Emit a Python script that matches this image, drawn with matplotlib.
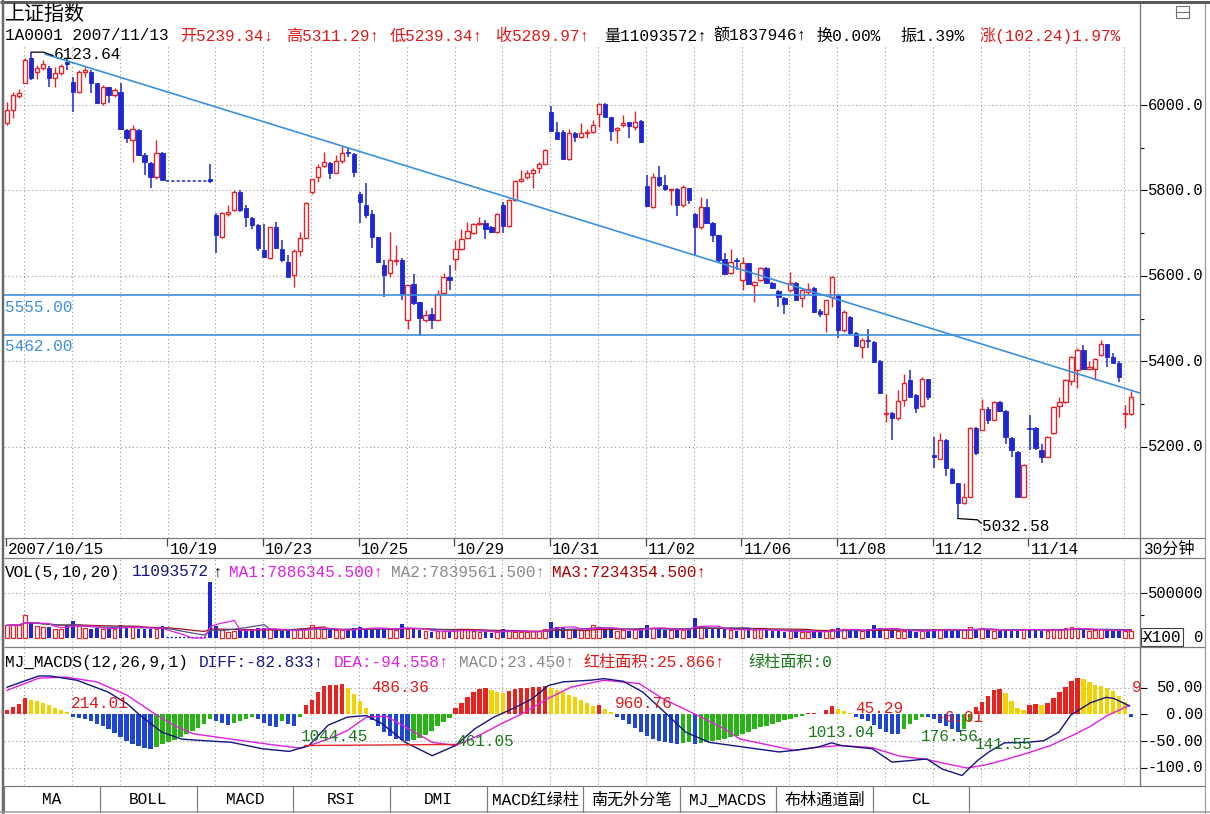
import matplotlib
matplotlib.use("Agg")
import matplotlib.pyplot as plt
from matplotlib.patches import Rectangle
import pandas as pd

plt.rcParams["font.family"] = ["Liberation Mono", "Noto Sans CJK SC", "DejaVu Sans"]

W, H = 1210, 814
RED = "#e0262a"
BLUE = "#1e28d2"
TREND = "#3c8fdc"
GRID = "#9a9a9a"
RED_T = "#e01818"
NAVY = "#141480"
MAG = "#e020e0"
GRAY_T = "#8a8a8a"
DRED = "#b00000"
GREEN_T = "#1a7a1a"
H_RED, H_YEL, H_BLUE, H_GRN = "#e8221e", "#f2d200", "#1e46d2", "#28b414"

# ---- 30-minute bars, 2007/10/15 .. 2007/11/16 (None = no trading data) ----
opens = [
    5957, 5988, 6020, 6051, 6109, 6078, 6086, 6086, 6062, 6074,
    6100, 6054, 6031, 6078, 6078, 6051, 6004, 6043, 6023, 6031,
    5941, 5918, 5941, 5883, 5865, 5832, 5888, None, None, None,
    None, None, None, None, 5826, 5743, 5692, 5745, 5754, 5797,
    5758, 5735, 5719, 5660, 5641, 5714, 5662, 5633, 5602, 5659,
    5690, 5797, 5831, 5857, 5865, 5842, 5870, 5891, 5885, 5792,
    5766, 5745, 5692, 5626, 5606, 5635, 5637, 5497, 5581, 5540,
    5498, 5510, 5498, 5561, 5598, 5639, 5662, 5690, 5701, 5721,
    5725, 5714, 5704, 5766, 5717, 5778, 5823, 5831, 5842, 5852,
    5863, 5984, 5938, 5938, 5873, 5934, 5924, 5935, 5938, 5980,
    6002, 5973, 5941, 5953, 5960, 5949, 5963, 5810, 5762, 5831,
    5813, 5800, 5803, 5766, 5805, 5745, 5714, 5761, 5725, 5696,
    5639, 5606, 5638, 5590, 5630, 5579, 5590, 5618, 5584, 5565,
    5548, 5567, 5584, 5548, 5563, 5571, 5519, 5512, 5552, 5555,
    5473, 5505, 5467, 5435, 5451, 5446, 5402, 5277, 5280, 5267,
    5310, 5357, 5321, 5296, 5358, 5181, 5173, 5216, 5148, 5115,
    5068, 5084, 5244, 5239.34, 5288, 5263, 5306, 5285, 5220, 5189,
    5084, 5244, 5244, 5193, 5177, 5232, 5296, 5306, 5355, 5380,
    5428, 5383, 5382, 5415, 5441, 5410, 5397, 5277, 5277,
]
highs = [
    6008, 6031, 6037, 6109, 6123.64, 6094, 6105, 6091, 6090, 6097,
    6109, 6066, 6082, 6090, 6082, 6052, 6047, 6043, 6039, 6051,
    5945, 5953, 5943, 5888, 5867, 5918, 5891, None, None, None,
    None, None, None, None, 5863, 5747, 5750, 5766, 5801, 5801,
    5766, 5739, 5721, 5721, 5715, 5727, 5684, 5649, 5662, 5704,
    5774, 5828, 5863, 5891, 5867, 5883, 5904, 5902, 5887, 5797,
    5817, 5754, 5692, 5637, 5704, 5672, 5641, 5579, 5604, 5540,
    5520, 5524, 5567, 5606, 5625, 5684, 5709, 5727, 5725, 5739,
    5732, 5717, 5748, 5774, 5779, 5824, 5849, 5848, 5852, 5867,
    5896, 5998, 5961, 5941, 5945, 5938, 5957, 5945, 5965, 6004,
    6004, 5973, 5948, 5977, 5961, 5987, 5966, 5836, 5840, 5857,
    5836, 5804, 5805, 5813, 5807, 5748, 5784, 5779, 5727, 5696,
    5654, 5662, 5641, 5645, 5631, 5589, 5622, 5622, 5587, 5567,
    5550, 5610, 5587, 5571, 5583, 5575, 5522, 5545, 5600, 5559,
    5520, 5506, 5470, 5456, 5477, 5449, 5403, 5325, 5282, 5333,
    5371, 5380, 5325, 5364, 5360, 5224, 5232, 5218, 5150, 5116,
    5115, 5246, 5246, 5311.29, 5293, 5308, 5308, 5287, 5224, 5191,
    5160, 5275, 5246, 5207, 5226, 5296, 5316, 5358, 5413, 5431,
    5439, 5400, 5407, 5450, 5442, 5419, 5400, 5298, 5330,
]
lows = [
    5953, 5969, 6016, 6051, 6058, 6060, 6083, 6043, 6043, 6070,
    6082, 5984, 6027, 6066, 6027, 6002, 6000, 6004, 6019, 5945,
    5910, 5867, 5881, 5836, 5805, 5828, 5824, None, None, None,
    None, None, None, None, 5818, 5653, 5688, 5740, 5753, 5750,
    5715, 5711, 5659, 5645, 5639, 5662, 5633, 5597, 5575, 5647,
    5688, 5792, 5821, 5856, 5828, 5840, 5865, 5879, 5832, 5725,
    5735, 5665, 5630, 5552, 5598, 5625, 5545, 5475, 5532, 5459,
    5493, 5475, 5497, 5555, 5567, 5614, 5661, 5688, 5698, 5719,
    5686, 5700, 5701, 5701, 5715, 5776, 5821, 5828, 5807, 5840,
    5862, 5938, 5918, 5871, 5871, 5914, 5922, 5922, 5935, 5949,
    5971, 5916, 5912, 5949, 5922, 5941, 5912, 5762, 5760, 5809,
    5799, 5766, 5740, 5761, 5768, 5647, 5711, 5722, 5680, 5633,
    5602, 5605, 5614, 5567, 5579, 5540, 5589, 5583, 5571, 5528,
    5511, 5563, 5542, 5527, 5559, 5514, 5503, 5470, 5528, 5454,
    5470, 5462, 5433, 5407, 5431, 5397, 5325, 5259, 5216, 5264,
    5296, 5316, 5280, 5294, 5311, 5150, 5171, 5131, 5113, 5032.58,
    5066, 5082, 5181, 5239.34, 5254, 5262, 5283, 5208, 5176, 5082,
    5082, 5193, 5193, 5163, 5176, 5230, 5271, 5304, 5345, 5337,
    5380, 5382, 5357, 5413, 5388, 5396, 5353, 5244, 5275,
]
closes = [
    5988, 6023, 6027, 6105, 6062, 6086, 6096, 6062, 6074, 6091,
    6097, 6031, 6078, 6082, 6051, 6004, 6043, 6023, 6035, 5945,
    5922, 5945, 5883, 5867, 5831, 5887, 5824, None, None, None,
    None, None, None, None, 5822, 5696, 5747, 5750, 5797, 5754,
    5739, 5719, 5665, 5645, 5714, 5665, 5637, 5598, 5659, 5690,
    5771, 5826, 5856, 5867, 5840, 5870, 5888, 5887, 5844, 5774,
    5743, 5692, 5633, 5602, 5637, 5638, 5559, 5579, 5536, 5501,
    5508, 5497, 5559, 5598, 5590, 5662, 5686, 5706, 5721, 5724,
    5709, 5704, 5746, 5717, 5778, 5823, 5828, 5842, 5849, 5863,
    5895, 5940, 5920, 5873, 5934, 5924, 5934, 5938, 5953, 6002,
    5973, 5940, 5947, 5959, 5951, 5961, 5914, 5764, 5831, 5813,
    5803, 5803, 5766, 5809, 5778, 5714, 5761, 5723, 5696, 5637,
    5605, 5633, 5635, 5630, 5581, 5587, 5618, 5584, 5573, 5551,
    5534, 5584, 5544, 5567, 5569, 5516, 5512, 5544, 5598, 5473,
    5516, 5466, 5436, 5450, 5448, 5399, 5327, 5280, 5267, 5308,
    5350, 5317, 5292, 5360, 5316, 5176, 5216, 5150, 5116, 5068,
    5084, 5244, 5185, 5289.97, 5262, 5306, 5285, 5223, 5193, 5084,
    5158, 5241, 5197, 5177, 5224, 5294, 5306, 5357, 5411, 5427,
    5382, 5386, 5405, 5442, 5410, 5397, 5363, 5280, 5318,
]
# volume in axis units (x100)
volumes = [
    140000, 147000, 140000, 250000, 176000, 132000, 121000, 121000, 103000, 103000,
    140000, 184000, 132000, 110000, 103000, 110000, 103000, 110000, 96000, 147000,
    121000, 132000, 103000, 103000, 96000, 103000, 132000, None, None, None,
    None, None, None, None, 617000, 132000, 85000, 66000, 77000, 85000,
    96000, 103000, 110000, 110000, 96000, 85000, 74000, 85000, 85000, 96000,
    103000, 140000, 110000, 96000, 85000, 85000, 85000, 85000, 110000, 121000,
    110000, 110000, 103000, 103000, 96000, 85000, 154000, 103000, 96000, 85000,
    74000, 66000, 74000, 74000, 66000, 96000, 103000, 85000, 74000, 66000,
    66000, 59000, 66000, 103000, 74000, 66000, 66000, 66000, 74000, 81000,
    103000, 176000, 121000, 110000, 103000, 96000, 85000, 92000, 140000, 121000,
    103000, 110000, 74000, 85000, 77000, 96000, 110000, 140000, 110000, 96000,
    92000, 85000, 96000, 85000, 110000, 220000, 132000, 103000, 96000, 103000,
    96000, 85000, 81000, 103000, 96000, 85000, 96000, 85000, 74000, 81000,
    66000, 81000, 74000, 70000, 66000, 74000, 66000, 81000, 103000, 110000,
    96000, 85000, 81000, 74000, 96000, 140000, 110000, 96000, 85000, 81000,
    77000, 85000, 70000, 74000, 81000, 103000, 85000, 96000, 85000, 96000,
    85000, 121000, 96000, 110936, 85000, 81000, 74000, 92000, 81000, 103000,
    96000, 103000, 85000, 74000, 81000, 103000, 85000, 110000, 121000, 110000,
    96000, 77000, 85000, 96000, 85000, 74000, 96000, 81000, 74000,
]
macd_hist = [
    8, 14, 19, 30, 27, 25, 22, 17, 12, 8,
    4, -4, -6, -9, -13, -17, -22, -28, -35, -42,
    -50, -55, -59, -62, -64, -60, -56, -52, -47, -42,
    -37, -31, -25, -18, -9, -12, -16, -19, -16, -12,
    -8, -5, -9, -15, -21, -23, -13, -18, -21, -5,
    17, 27, 42, 53, 55, 56, 57, 50, 38, 25,
    12, -10, -22, -32, -40, -45, -48, -49, -47, -44,
    -38, -30, -22, -14, -6, 12, 22, 33, 42, 48,
    50, 46, 42, 40, 44, 47, 49, 50, 51, 52,
    53, 50, 46, 42, 37, 32, 27, 22, 16, 18,
    10, 4, -5, -10, -17, -25, -32, -40, -45, -50,
    -52, -54, -55, -53, -52, -56, -54, -52, -50, -48,
    -46, -43, -40, -36, -32, -28, -24, -21, -17, -14,
    -11, -8, -5, -2, 2, 3, 1, 8, 15, 10,
    6, 2, -4, -8, -13, -20, -27, -33, -36, -37,
    -28, -18, -10, -4, -5, -9, -15, -22, -28, -33,
    -28, -12, 14, 23.45, 35, 45, 48, 40, 26, 12,
    8, 18, 19, 17, 22, 31, 42, 52, 62, 68,
    66, 60, 56, 53, 49, 43, 35, 24, -4,
]
# DIFF / DEA read as (bar, value) vertices
diff_bars = [0, 5.3, 7.2, 11.7, 16.9, 20.1, 22.1, 25.9, 29.2, 33, 37.5, 42.7, 47.2,
             50.5, 53.7, 56.9, 60.1, 62.7, 66.6, 71.1, 75, 78.2, 81.4, 84.6, 87.9,
             90.5, 93, 97.5, 99.8, 103.1, 106.3, 110.2, 113.5, 117.4, 121.3, 125.2,
             129.1, 131.7, 135.6, 137.9, 139.5, 144.7, 148, 151.2, 153.8, 156.4,
             159.7, 162.3, 164.2, 166.8, 170.7, 173.4, 175.9, 177.9, 181.2, 183.8,
             185.1, 187.7]
diff_vals = [51, 72, 72, 64, 42, 20, 0, -33, -46, -49, -52, -64, -69, -58, -20, -5,
             -2, -17, -52, -77, -58, -27, -5, 11, 30, 54, 61, 64, 67, 62, 42, 2,
             -33, -52, -58, -64, -70, -67, -61, -53, -58, -64, -89, -86, -83, -102,
             -114, -86, -70, -53, -52, -49, -33, -1, 22, 32, 30, 16]
dea_bars = [0, 5.3, 9.8, 15, 20.1, 24.6, 27.9, 31.1, 37.5, 44, 49.2, 53.7, 56.9,
            60.1, 63.4, 67.2, 71.1, 75, 79.5, 82.7, 85.9, 90.5, 94.3, 99.8, 105.7,
            109.6, 114.8, 120, 122.6, 126.5, 131.7, 135.6, 139.5, 144.7, 149.3,
            153.8, 157, 160.5, 163.5, 166.8, 170.7, 174.5, 178, 181.2, 184, 187.7]
dea_vals = [45, 68, 70, 61, 36, 2, -20, -36, -46, -56, -63, -46, -30, -5, -3, -27,
            -52, -58, -36, -17, 0, 30, 51, 64, 58, 30, 2, -27, -46, -55, -67, -61,
            -58, -62, -78, -84, -92, -100, -94.6, -85, -72, -58, -40, -22, -2, 17]

date_labels = ["2007/10/15", "10/19", "10/23", "10/25", "10/29", "10/31",
               "11/02", "11/06", "11/08", "11/12", "11/14"]
date_bars = [0, 27, 43, 59, 75, 91, 107, 123, 139, 155, 171]

price_ticks = [5200, 5400, 5600, 5800, 6000]
support_levels = [5555.0, 5462.0]
trend_bars = [6.4, 189.5]
trend_prices = [6119, 5326]
peak_bar, peak_price = 4, 6123.64
low_bar, low_price = 159, 5032.58

# area labels in the MACD panel: (bar, value, text, colour)
macd_labels = [
    (10.7, 20, "214.01", RED_T), (49.2, -42, "1044.45", GREEN_T),
    (60.9, 51, "486.36", RED_T), (75.1, -51, "461.05", GREEN_T),
    (101.7, 21, "960.76", RED_T), (134.0, -33, "1013.04", GREEN_T),
    (141.8, 12, "45.29", RED_T), (155.2, -5, "-6.01", RED_T),
    (152.8, -42, "176.56", GREEN_T), (161.9, -57, "141.55", GREEN_T),
    (188.1, 51, "9", RED_T),
]

tab_names = ["MA", "BOLL", "MACD", "RSI", "DMI", "MACD红绿柱", "南无外分笔",
             "MJ_MACDS", "布林通道副", "CL"]

n = len(opens)
X0, X1 = -0.5, 189.47
FS = 11.6
DOT = (0, (1, 2.5))
LAB_X = (1203 - 4) / 1136


def px_axes(fig, x0, y0, x1, y1):
    a = fig.add_axes([x0 / W, 1 - y1 / H, (x1 - x0) / W, (y1 - y0) / H])
    a.set_xlim(X0, X1)
    for s in a.spines.values():
        s.set_visible(False)
    a.set_xticks([])
    a.yaxis.tick_right()
    a.tick_params(axis="y", which="both", direction="out", labelright=False,
                  color="black", width=0.8)
    a.tick_params(axis="y", which="major", length=5)
    a.tick_params(axis="y", which="minor", length=3)
    for b in range(3, n, 8):
        a.axvline(b - 0.15, color=GRID, lw=0.8, ls=DOT, zorder=0)
    return a


def right_labels(a, values, texts):
    for v, s in zip(values, texts):
        a.text(LAB_X, v, s, transform=a.get_yaxis_transform(), ha="right",
               va="center", fontsize=FS - 0.4, clip_on=False)


fig = plt.figure(figsize=(W / 100, H / 100), dpi=100)
fig.patch.set_facecolor("white")

# ---------------- main price panel ----------------
ax = px_axes(fig, 4, 44, 1140, 538)
ax.set_ylim(4987.1, 6142.7)
ax.set_yticks(price_ticks)
ax.set_yticks([5300, 5500, 5700, 5900], minor=True)
for p in price_ticks:
    ax.axhline(p, color=GRID, lw=0.8, ls=DOT, zorder=0)
right_labels(ax, price_ticks, [f"{p:.1f}" for p in price_ticks])

for i in range(n):
    o, h, l, c = opens[i], highs[i], lows[i], closes[i]
    if o is None:
        continue
    if c >= o:
        ax.vlines(i, c, h, color=RED, lw=1)
        ax.vlines(i, l, o, color=RED, lw=1)
        ax.add_patch(Rectangle((i - 0.36, o), 0.72, max(c - o, 1.5), facecolor="white",
                               edgecolor=RED, lw=1, zorder=3))
    else:
        ax.vlines(i, l, h, color=BLUE, lw=1.1)
        ax.add_patch(Rectangle((i - 0.36, c), 0.72, max(o - c, 1.5), facecolor=BLUE,
                               edgecolor=BLUE, lw=0.6, zorder=3))
# no-data stretch on 10/19
ax.plot([26.6, 33.7], [closes[26] - 1, closes[26] - 1], color=BLUE, lw=1.1, ls=(0, (2, 1.5)))

ax.plot(trend_bars, trend_prices, color=TREND, lw=1.2, zorder=4)
for lv in support_levels:
    ax.axhline(lv, color=TREND, lw=1.2, zorder=4)
    ax.text(-0.35, lv - 28, f"{lv:.2f}", color=TREND, fontsize=FS, ha="left", va="center")

ax.plot([peak_bar + 0.1, peak_bar + 2.1, peak_bar + 3.7],
        [peak_price, peak_price, peak_price - 8], color="black", lw=0.9, zorder=5)
ax.text(peak_bar + 3.8, peak_price - 5, f"{peak_price:.2f}", fontsize=FS, ha="left", va="center")
ax.plot([low_bar, low_bar + 3.3, low_bar + 3.9],
        [low_price, low_price - 3, low_price - 11], color="black", lw=0.9, zorder=5)
ax.text(low_bar + 4.0, low_price - 19, f"{low_price:.2f}", fontsize=FS, ha="left", va="center")

# ---------------- date strip ----------------
axd = fig.add_axes([4 / W, 1 - 558 / H, 1136 / W, 20 / H])
axd.set_xlim(X0, X1)
axd.set_ylim(0, 1)
axd.axis("off")
for b, s in zip(date_bars, date_labels):
    axd.vlines(b - 0.2, 0.6, 1.0, color="#444444", lw=0.9)
    axd.text(b + 0.15, 0.45, s, fontsize=FS, ha="left", va="center")

# ---------------- volume panel ----------------
axv = px_axes(fig, 4, 558, 1140, 646)
axv.set_ylim(-88889, 888889)
axv.set_yticks([0, 500000])
axv.set_yticks([250000], minor=True)
axv.axhline(500000, color=GRID, lw=0.8, ls=DOT, zorder=0)
right_labels(axv, [500000, 0], ["500000", "0"])
up_i = [i for i in range(n) if volumes[i] is not None and closes[i] >= opens[i]]
dn_i = [i for i in range(n) if volumes[i] is not None and closes[i] < opens[i]]
axv.bar(up_i, [volumes[i] for i in up_i], width=0.62, facecolor="white",
        edgecolor=RED, lw=0.9, zorder=3)
axv.bar(dn_i, [volumes[i] for i in dn_i], width=0.62, color=BLUE, zorder=3)
axv.plot([26.6, 33.6], [12000, 12000], color=BLUE, lw=1, ls=(0, (1.5, 1.5)))
vol_s = pd.Series([v if v is not None else 0 for v in volumes], dtype=float)
for win, col in [(20, "#a01010"), (10, "#50508a"), (5, MAG)]:
    axv.plot(range(n), vol_s.rolling(win, min_periods=1).mean(), color=col, lw=0.9, zorder=4)

# ---------------- MJ_MACDS panel ----------------
axm = px_axes(fig, 4, 648, 1140, 785)
axm.set_ylim(-131.8, 124.3)
axm.set_yticks([-100, -50, 0, 50])
for v in [-100, -50, 50]:
    axm.axhline(v, color=GRID, lw=0.8, ls=DOT, zorder=0)
right_labels(axm, [50, 0, -50, -100], ["50.00", "0.00", "-50.00", "-100.0"])
cols = []
for i, v in enumerate(macd_hist):
    prev = macd_hist[i - 1] if i else 0
    if v >= 0:
        cols.append(H_RED if v >= prev else H_YEL)
    else:
        cols.append(H_BLUE if v <= prev else H_GRN)
axm.bar(range(n), macd_hist, width=0.72, color=cols, zorder=2)
axm.plot(dea_bars, dea_vals, color=MAG, lw=1, zorder=4)
axm.plot(diff_bars, diff_vals, color=NAVY, lw=1, zorder=4)
axm.plot([49.8, 75.1], [-58, -56], color=RED, lw=1, zorder=4)
for b, v, s, c in macd_labels:
    axm.text(b, v, s, color=c, fontsize=FS, ha="left", va="center", zorder=5,
             clip_on=True)

# ---------------- frame, headers, tabs (pixel overlay) ----------------
ov = fig.add_axes([0, 0, 1, 1])
ov.set_xlim(0, W)
ov.set_ylim(H, 0)
ov.axis("off")


def line(xs, ys, c="#808080", lw=1.0):
    ov.plot(xs, ys, color=c, lw=lw * 0.72, solid_capstyle="butt")


def txt(x, y, s, c="black", size=FS, ha="left"):
    ov.text(x, y, s, color=c, fontsize=size, ha=ha, va="center")


line([0, W], [1.5, 1.5], "#5a5a5a", 3)
line([2.5, 2.5], [0, H], "#6a6a6a", 2.5)
line([1140, 1140], [3, 786], "#7a7a7a", 1.4)
line([1205, 1205], [3, H], "#9a9a9a", 1.2)
for yy in [538, 558, 647, 786]:
    line([4, 1205], [yy, yy], "#7a7a7a", 1.2)
line([0, W], [812, 812], "#9a9a9a", 1.5)
ov.add_patch(Rectangle((1141, 628), 42, 18, fill=False, edgecolor="#404040", lw=0.8))
txt(1143, 637.5, "X100")
ov.add_patch(Rectangle((1176, 6), 13, 12, fill=False, edgecolor="#707070", lw=0.8))
line([1176, 1189], [12, 12], "#707070", 1)
txt(1144, 549, "30分钟")

txt(5, 14, "上证指数", size=14.4)
for x, s, c in [(5, "1A0001 2007/11/13", "black"), (180, "开5239.34↓", RED_T),
                (286, "高5311.29↑", RED_T), (390, "低5239.34↑", RED_T),
                (496, "收5289.97↑", RED_T), (604, "量11093572↑", "black"),
                (713, "额1837946↑", "black"), (816, "换0.00%", "black"),
                (900, "振1.39%", "black"), (979, "涨(102.24)1.97%", RED_T)]:
    txt(x, 36, s, c)

for x, s, c in [(5, "VOL(5,10,20)", "black"), (132, "11093572", NAVY),
                (212, "↑", "black"), (229, "MA1:7886345.500↑", MAG),
                (391, "MA2:7839561.500↑", GRAY_T), (552, "MA3:7234354.500↑", DRED)]:
    txt(x, 572, s, c)

for x, s, c in [(5, "MJ_MACDS(12,26,9,1)", "black"), (199, "DIFF:-82.833↑", NAVY),
                (334, "DEA:-94.558↑", MAG), (459, "MACD:23.450↑", GRAY_T),
                (583, "红柱面积:25.866↑", RED_T), (748, "绿柱面积:0", GREEN_T)]:
    txt(x, 662, s, c)

tab_x = [4, 100, 197, 293, 390, 487, 583, 680, 776, 873, 969]
for xx in tab_x:
    line([xx, xx], [786, 812], "#7a7a7a", 1.2)
for k, name in enumerate(tab_names):
    txt((tab_x[k] + tab_x[k + 1]) / 2, 800, name, ha="center")

fig.savefig("out.png", dpi=100)
